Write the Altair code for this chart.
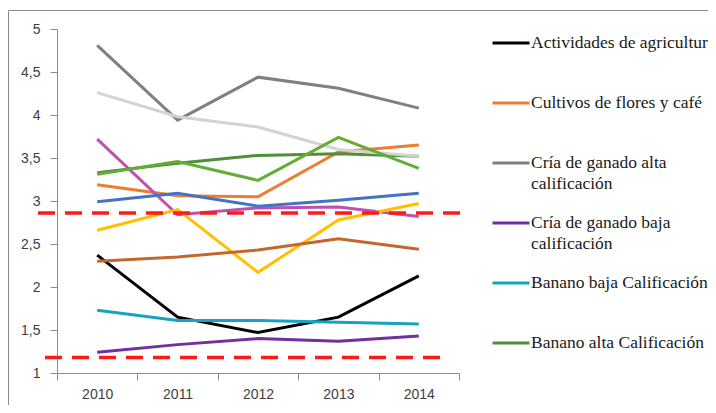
import altair as alt
import pandas as pd

years = [2010, 2011, 2012, 2013, 2014]

series_names = [
    "Actividades de agricultura",
    "Cultivos de flores y café",
    "Cría de ganado alta calificación",
    "Cría de ganado baja calificación",
    "Banano baja Calificación",
    "Banano alta Calificación",
    "Serie 7",
    "Serie 8",
    "Serie 9",
    "Serie 10",
    "Serie 11",
    "Serie 12",
]

series_values = [
    [2.37, 1.65, 1.47, 1.65, 2.13],
    [3.19, 3.06, 3.05, 3.57, 3.65],
    [4.81, 3.94, 4.44, 4.31, 4.08],
    [1.24, 1.33, 1.40, 1.37, 1.43],
    [1.73, 1.61, 1.61, 1.59, 1.57],
    [3.33, 3.44, 3.53, 3.55, 3.52],
    [4.26, 3.98, 3.86, 3.60, 3.52],
    [3.72, 2.84, 2.92, 2.93, 2.82],
    [2.99, 3.09, 2.94, 3.01, 3.09],
    [2.66, 2.90, 2.17, 2.78, 2.97],
    [2.30, 2.35, 2.43, 2.56, 2.44],
    [3.31, 3.46, 3.24, 3.74, 3.38],
]

series_colors = [
    "#000000", "#EE7D31", "#808080", "#7030A0", "#17A2C0", "#4E8F38",
    "#D3D3D3", "#C04FB0", "#4472C4", "#FFC000", "#C5662A", "#62AE35",
]

thresholds = [2.86, 1.18]

y_ticks = [1, 1.5, 2, 2.5, 3, 3.5, 4, 4.5, 5]
x_ticks = [2009.5, 2010, 2010.5, 2011, 2011.5, 2012, 2012.5, 2013, 2013.5, 2014, 2014.5]

rows = []
for name, vals in zip(series_names, series_values):
    for yr, v in zip(years, vals):
        rows.append({"serie": name, "year": yr, "value": v})
df = pd.DataFrame(rows)

W, H = 402, 344

x_scale = alt.Scale(domain=[2009.5, 2014.5], nice=False, zero=False)
y_scale = alt.Scale(domain=[1, 5], nice=False, zero=False)

label_expr = (
    "indexof(datum.label, ' calificación') > 0 ? "
    "[slice(datum.label, 0, indexof(datum.label, ' calificación')), 'calificación'] "
    ": [datum.label, '']"
)

axis_style = dict(
    labelFont="Liberation Sans",
    labelFontSize=14,
    labelColor="#404040",
    domainColor="#8c8c8c",
    tickColor="#8c8c8c",
    domainWidth=1,
    tickWidth=1,
    grid=False,
    tickSize=7,
)

lines = alt.Chart(df).mark_line(strokeWidth=3).encode(
    x=alt.X(
        "year:Q",
        scale=x_scale,
        title=None,
        axis=alt.Axis(
            values=x_ticks,
            labelExpr="datum.value % 1 === 0 ? format(datum.value, 'd') : ''",
            tickOpacity={"condition": {"test": "datum.value % 1 === 0", "value": 0}, "value": 1},
            labelFlush=False,
            labelOverlap=False,
            labelPadding=7,
            **axis_style,
        ),
    ),
    y=alt.Y(
        "value:Q",
        scale=y_scale,
        title=None,
        axis=alt.Axis(
            values=y_ticks,
            labelExpr="replace(toString(datum.value), '.', ',')",
            labelPadding=10,
            **axis_style,
        ),
    ),
    color=alt.Color(
        "serie:N",
        scale=alt.Scale(domain=series_names, range=series_colors),
        legend=alt.Legend(
            values=series_names[:6],
            title=None,
            orient="none",
            legendX=431,
            legendY=-6,
            symbolType="stroke",
            symbolSize=1369,
            symbolStrokeWidth=3,
            symbolOffset=3,
            labelOffset=0,
            labelExpr=label_expr,
            labelFont="Liberation Serif",
            labelFontSize=17.5,
            labelColor="#1a1a1a",
            labelLimit=400,
            rowPadding=10,
            padding=0,
        ),
    ),
    order=alt.Order("serie:N"),
)

thr_df = pd.DataFrame({"t": thresholds, "k": ["upper", "lower"]})

upper = alt.Chart(thr_df).transform_filter("datum.k == 'upper'").mark_rule(
    color="#FF1A1A", strokeWidth=3.5, strokeDash=[17, 10]
).encode(y=alt.Y("t:Q", scale=y_scale), x=alt.value(-19), x2=alt.value(408))

lower = alt.Chart(thr_df).transform_filter("datum.k == 'lower'").mark_rule(
    color="#FF1A1A", strokeWidth=3.5, strokeDash=[17, 10]
).encode(y=alt.Y("t:Q", scale=y_scale), x=alt.value(-12), x2=alt.value(388))

frame = alt.Chart(pd.DataFrame({"a": [0]})).mark_rect(
    fillOpacity=0, stroke="#8a8a8a", strokeWidth=1
).encode(x=alt.value(-48.5), x2=alt.value(800), y=alt.value(-18.5), y2=alt.value(600))

chart = alt.layer(frame, lines, upper, lower).properties(
    width=W,
    height=H,
    autosize=alt.AutoSizeParams(type="none"),
    padding={"left": 49, "top": 21, "right": 249, "bottom": 32},
).configure(
    background="white",
    style={"guide-label": {"lineHeight": 21}},
).configure_view(stroke=None)

chart.save("out.html", embed_options={"renderer": "svg", "actions": False})
